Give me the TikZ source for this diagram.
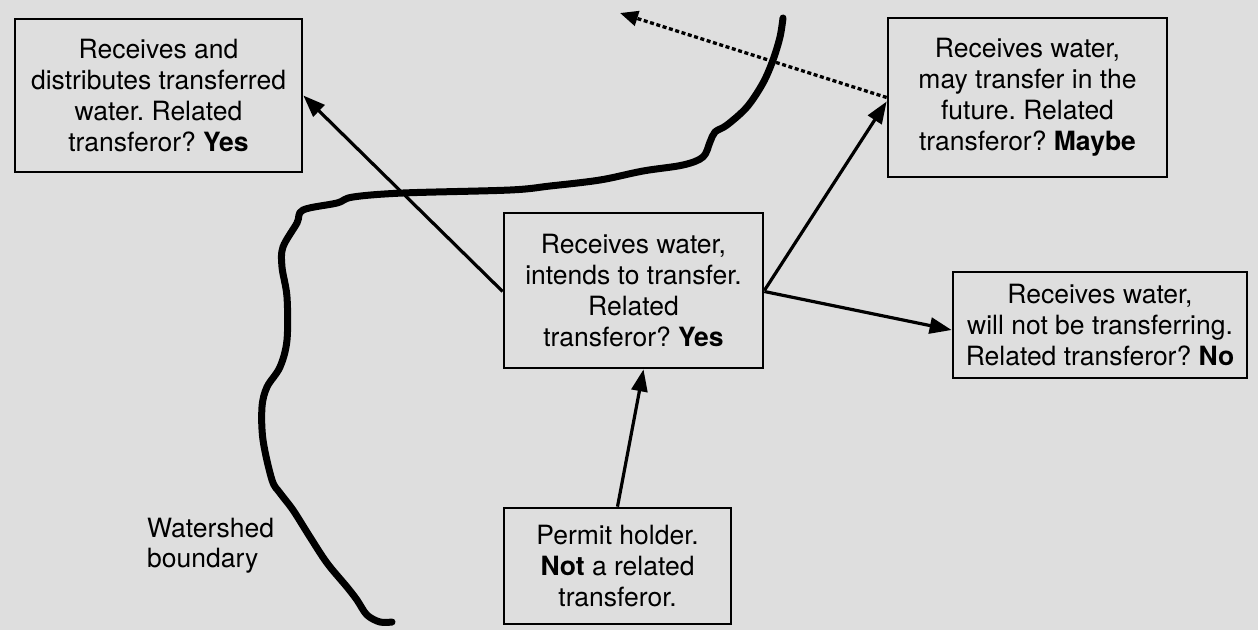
\documentclass[tikz,border=0pt]{standalone}
\usepackage{fontspec}
\setmainfont{TeX Gyre Heros}
\usetikzlibrary{arrows.meta}
\frenchspacing
\begin{document}
\begin{tikzpicture}[x=1pt,y=-1pt,
  box/.style={draw=black, line width=2.7pt, fill=none, align=center,
    inner sep=0pt, font=\fontsize{26.5}{31}\selectfont},
  link/.style={line width=3.2pt, -{Triangle[length=22pt,width=16pt]}},
  maybe/.style={line width=3.3pt, dash pattern=on 4pt off 2.6pt,
    -{Triangle[length=18pt,width=15pt]}},
  boundary/.style={line width=7pt, line join=round, line cap=round},
  note/.style={align=left, anchor=north west, inner sep=0pt,
    font=\fontsize{26.5}{30}\selectfont}]
  % background
  \fill[black!13] (0,0) rectangle (1258,630);
  \useasboundingbox (0,0) rectangle (1258,630);

  % watershed boundary line
  \draw[boundary] plot[smooth, tension=0.55] coordinates {
    (783,18) (780,37) (773,60) (763,83) (747,107) (727,125) (715,132)
    (710,142) (703,157) (683,165) (643,171) (600,180) (550,186)
    (510,190) (403,193) (353,197) (337,203) (303,210) (297,223)
    (283,247) (282,267) (287,297) (287,340) (280,367) (267,387)
    (262,407) (263,440) (272,480) (280,493) (293,510) (310,537)
    (327,563) (347,587) (357,600) (367,615) (380,622) (392,622)};

  % boxes
  \node[box, minimum width=287pt, minimum height=153pt] (ra) at (158.5,95.5)
    {Receives and\\distributes transferred\\water. Related\\transferor? \textbf{Yes}};
  \node[box, minimum width=279pt, minimum height=159pt] (rb) at (1027.5,97.5)
    {Receives water,\\may transfer in the\\future. Related\\transferor? \textbf{Maybe}};
  \node[box, minimum width=259pt, minimum height=155pt] (rc) at (633.5,290.5)
    {Receives water,\\intends to transfer.\\Related\\transferor? \textbf{Yes}};
  \node[box, minimum width=294pt, minimum height=106pt] (rd) at (1100,325)
    {Receives water,\\will not be transferring.\\Related transferor? \textbf{No}};
  \node[box, minimum width=227pt, minimum height=116pt] (pe) at (617.5,566)
    {Permit holder.\\\textbf{Not} a related\\transferor.};

  \node[note] (ws) at (147,518) {Watershed\\boundary};

  % connectors
  \coordinate (away) at (620,13);
  \draw[link] ([yshift=-1pt]rc.west) -- (ra.east);
  \draw[link] (rc.east) -- ([yshift=-4pt]rb.west);
  \draw[link] ([yshift=-1pt]rc.east) -- ([yshift=-5pt]rd.west);
  \draw[link] (pe.north) -- ([xshift=10pt]rc.south);
  \draw[maybe] (rb.west) -- (away);
\end{tikzpicture}
\end{document}
